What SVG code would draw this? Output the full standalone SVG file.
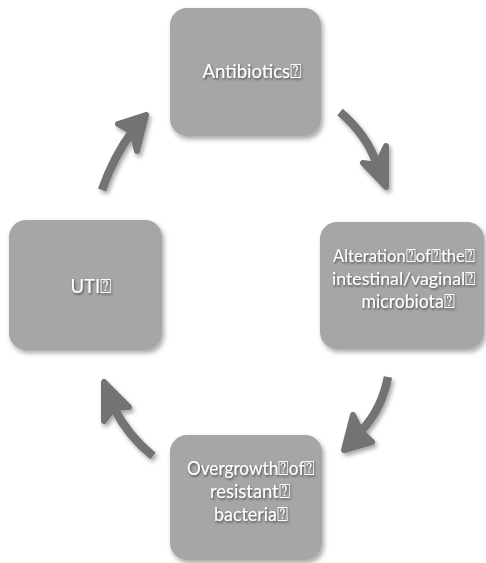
<svg xmlns="http://www.w3.org/2000/svg" width="486" height="563" viewBox="0 0 486 563">
  <defs>
    <filter id="boxShadow" x="-10%" y="-10%" width="125%" height="125%">
      <feDropShadow dx="2" dy="3" stdDeviation="2.5" flood-color="#000" flood-opacity="0.35"/>
    </filter>
    <filter id="arrowShadow" x="-30%" y="-30%" width="160%" height="160%">
      <feDropShadow dx="2" dy="3" stdDeviation="2" flood-color="#000" flood-opacity="0.35"/>
    </filter>
    <filter id="textShadow" x="-10%" y="-30%" width="120%" height="160%">
      <feDropShadow dx="1" dy="1.5" stdDeviation="0.8" flood-color="#000" flood-opacity="0.55"/>
    </filter>
  </defs>
  <style>
    .box { fill: #a6a6a6; filter: url(#boxShadow); }
    .label { font-family: Lato, "Open Sans", "DejaVu Sans", sans-serif; font-size: 19.5px; fill: #ffffff; text-anchor: middle; filter: url(#textShadow); }
    .label.tight { font-size: 18px; }
    .shaft { fill: none; stroke: #737373; stroke-width: 8.5; stroke-linecap: butt; }
    .head { fill: #737373; stroke: #737373; stroke-width: 6; stroke-linejoin: round; }
    .arrow { filter: url(#arrowShadow); }
  </style>

  <rect width="486" height="563" fill="#ffffff"/>

  <!-- cycle nodes -->
  <g id="antibiotics">
    <rect class="box" x="170" y="8" width="151" height="128" rx="17"/>
    <text class="label" x="252" y="78" textLength="99" lengthAdjust="spacingAndGlyphs">Antibiotics⍰</text>
  </g>

  <g id="alteration">
    <rect class="box" x="320" y="222" width="164" height="127" rx="17"/>
    <text class="label tight" x="404" y="262" textLength="142" lengthAdjust="spacingAndGlyphs">Alteration⍰of⍰the⍰</text>
    <text class="label tight" x="404" y="285" textLength="144" lengthAdjust="spacingAndGlyphs">intestinal/vaginal⍰</text>
    <text class="label" x="408" y="308" textLength="93" lengthAdjust="spacingAndGlyphs">microbiota⍰</text>
  </g>

  <g id="overgrowth">
    <rect class="box" x="170" y="435" width="152" height="125" rx="17"/>
    <text class="label" x="251" y="475" textLength="128" lengthAdjust="spacingAndGlyphs">Overgrowth⍰of⍰</text>
    <text class="label" x="250" y="498" textLength="80" lengthAdjust="spacingAndGlyphs">resistant⍰</text>
    <text class="label" x="251" y="521" textLength="74" lengthAdjust="spacingAndGlyphs">bacteria⍰</text>
  </g>

  <g id="uti">
    <rect class="box" x="9" y="220" width="153" height="130" rx="17"/>
    <text class="label" x="91" y="293" textLength="41" lengthAdjust="spacingAndGlyphs">UTI⍰</text>
  </g>

  <!-- curved connectors between the nodes -->
  <g id="connectors">
    <g class="arrow">
      <path class="shaft" d="M340,112 Q367.5,135.5 377,165"/>
      <polygon class="head" points="386,187 363,163 377,165 386,146"/>
    </g>
    <g class="arrow">
      <path class="shaft" d="M388,377 Q381.5,410 361,431"/>
      <polygon class="head" points="344,450 353,415 361,431 372,442"/>
    </g>
    <g class="arrow">
      <path class="shaft" d="M153,456 Q128,436 114,408"/>
      <polygon class="head" points="104,382 104,421 114,408 129,407"/>
    </g>
    <g class="arrow">
      <path class="shaft" d="M102,190 Q114,156 132,132"/>
      <polygon class="head" points="146,115 118,124 132,132 137,151"/>
    </g>
  </g>
</svg>
